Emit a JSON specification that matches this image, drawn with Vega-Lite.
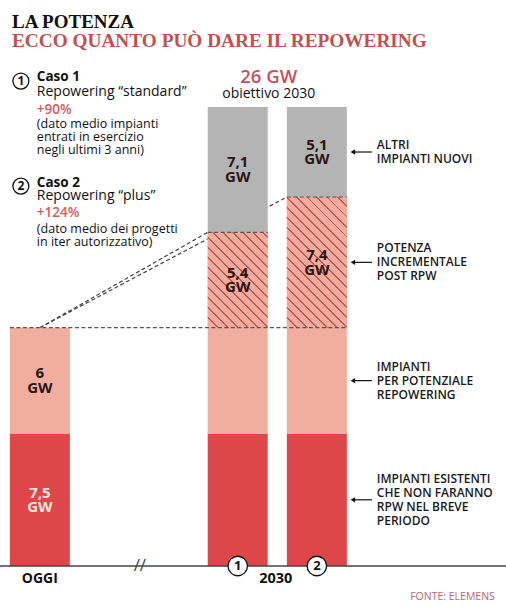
{
  "$schema": "https://vega.github.io/schema/vega-lite/v6.json",
  "width": 497,
  "height": 543,
  "autosize": {"type": "none"},
  "padding": {"left": 9, "top": 62, "right": 0, "bottom": 0},
  "background": "white",
  "config": {"view": {"stroke": null}, "font": "Open Sans", "axis": {"domain": false, "ticks": false, "labels": false, "grid": false, "title": null}},
  "title": {
    "text": "LA POTENZA",
    "subtitle": "ECCO QUANTO PUÒ DARE IL REPOWERING",
    "anchor": "start",
    "frame": "group",
    "dx": 3,
    "offset": 11,
    "font": "Liberation Serif",
    "fontSize": 19,
    "fontWeight": "bold",
    "color": "#111111",
    "subtitleFont": "Liberation Serif",
    "subtitleFontSize": 19.3,
    "subtitleFontWeight": "bold",
    "subtitleColor": "#c0514f",
    "subtitlePadding": 0
  },
  "datasets": {
    "bars": [
      {"bar": "OGGI", "seg": "esistenti", "level": 1, "value": 7.5, "label": "7,5\nGW"},
      {"bar": "OGGI", "seg": "potenziale", "level": 2, "value": 6, "label": "6\nGW"},
      {"bar": "Caso 1", "seg": "esistenti", "level": 1, "value": 7.5, "label": ""},
      {"bar": "Caso 1", "seg": "potenziale", "level": 2, "value": 6, "label": ""},
      {"bar": "Caso 1", "seg": "incrementale", "level": 3, "value": 5.4, "label": "5,4\nGW"},
      {"bar": "Caso 1", "seg": "altri", "level": 4, "value": 7.1, "label": "7,1\nGW"},
      {"bar": "Caso 2", "seg": "esistenti", "level": 1, "value": 7.5, "label": "", "note": "IMPIANTI ESISTENTI\nCHE NON FARANNO\nRPW NEL BREVE\nPERIODO"},
      {"bar": "Caso 2", "seg": "potenziale", "level": 2, "value": 6, "label": "", "note": "IMPIANTI\nPER POTENZIALE\nREPOWERING"},
      {"bar": "Caso 2", "seg": "incrementale", "level": 3, "value": 7.4, "label": "7,4\nGW", "note": "POTENZA\nINCREMENTALE\nPOST RPW"},
      {"bar": "Caso 2", "seg": "altri", "level": 4, "value": 5.1, "label": "5,1\nGW", "note": "ALTRI\nIMPIANTI NUOVI"}
    ],
    "links": [
      {"from": "OGGI", "to": "Caso 1", "base": 13.5, "top": 18.9},
      {"from": "OGGI", "to": "Caso 2", "base": 13.5, "top": 20.9}
    ],
    "legend": [
      {"kind": "head", "text": "Caso 1", "at": 27.7},
      {"kind": "sub", "text": "Repowering “standard”", "at": 26.83},
      {"kind": "pct", "text": "+90%", "at": 25.83},
      {"kind": "paren", "text": "(dato medio impianti\nentrati in esercizio\nnegli ultimi 3 anni)", "at": 25.04},
      {"kind": "head", "text": "Caso 2", "at": 21.69},
      {"kind": "sub", "text": "Repowering “plus”", "at": 20.96},
      {"kind": "pct", "text": "+124%", "at": 19.98},
      {"kind": "paren", "text": "(dato medio dei progetti\nin iter autorizzativo)", "at": 19.07}
    ],
    "cases": [
      {"bar": "Caso 1", "num": "1", "at": 27.47},
      {"bar": "Caso 2", "num": "2", "at": 21.52}
    ]
  },
  "layer": [
    {
      "data": {"name": "links"},
      "mark": {"type": "rule", "strokeDash": [4, 2.5], "color": "#444444", "strokeWidth": 1.2, "x2Offset": -30},
      "encoding": {
        "x": {"field": "from", "type": "nominal", "axis": null,
              "scale": {"domain": ["OGGI", "s1", "s2", "s3", "s4", "Caso 1", "s6", "Caso 2", "s8", "s9", "s10", "s11"], "paddingInner": 0, "paddingOuter": 0.28}},
        "x2": {"field": "to"},
        "y": {"field": "base", "type": "quantitative", "axis": null, "scale": {"domain": [-2.209, 28.549], "nice": false, "zero": false}},
        "y2": {"field": "top"}
      }
    },
    {
      "data": {"name": "bars"},
      "transform": [
        {"stack": "value", "groupby": ["bar"], "sort": [{"field": "level", "order": "ascending"}], "as": ["v0", "v1"]}
      ],
      "mark": {"type": "bar", "width": 60},
      "encoding": {
        "x": {"field": "bar", "type": "nominal", "axis": null},
        "y": {"field": "v0", "type": "quantitative", "axis": null},
        "y2": {"field": "v1"},
        "color": {"field": "seg", "type": "nominal", "legend": null,
                  "scale": {"domain": ["esistenti", "potenziale", "incrementale", "altri"], "range": ["#dd4749", "#f0ae9f", "#f4ac9f", "#b4b4b4"]}}
      }
    },
    {
      "data": {"name": "bars"},
      "transform": [
        {"stack": "value", "groupby": ["bar"], "sort": [{"field": "level", "order": "ascending"}], "as": ["v0", "v1"]},
        {"filter": "datum.seg === 'incrementale' && datum.bar === 'Caso 1'"}
      ],
      "mark": {"type": "bar", "width": 60, "fill": {
        "gradient": "linear", "x1": 0, "y1": 1, "x2": 0.735, "y2": -0.167,
        "stops": [
          {"offset": 0, "color": "#f4ac9f"},
          {"offset": 0.059, "color": "#f4ac9f"}, {"offset": 0.059, "color": "#c9564f"}, {"offset": 0.071, "color": "#c9564f"}, {"offset": 0.071, "color": "#f4ac9f"},
          {"offset": 0.123, "color": "#f4ac9f"}, {"offset": 0.123, "color": "#c9564f"}, {"offset": 0.135, "color": "#c9564f"}, {"offset": 0.135, "color": "#f4ac9f"},
          {"offset": 0.188, "color": "#f4ac9f"}, {"offset": 0.188, "color": "#c9564f"}, {"offset": 0.2, "color": "#c9564f"}, {"offset": 0.2, "color": "#f4ac9f"},
          {"offset": 0.253, "color": "#f4ac9f"}, {"offset": 0.253, "color": "#c9564f"}, {"offset": 0.265, "color": "#c9564f"}, {"offset": 0.265, "color": "#f4ac9f"},
          {"offset": 0.318, "color": "#f4ac9f"}, {"offset": 0.318, "color": "#c9564f"}, {"offset": 0.33, "color": "#c9564f"}, {"offset": 0.33, "color": "#f4ac9f"},
          {"offset": 0.382, "color": "#f4ac9f"}, {"offset": 0.382, "color": "#c9564f"}, {"offset": 0.394, "color": "#c9564f"}, {"offset": 0.394, "color": "#f4ac9f"},
          {"offset": 0.447, "color": "#f4ac9f"}, {"offset": 0.447, "color": "#c9564f"}, {"offset": 0.459, "color": "#c9564f"}, {"offset": 0.459, "color": "#f4ac9f"},
          {"offset": 0.512, "color": "#f4ac9f"}, {"offset": 0.512, "color": "#c9564f"}, {"offset": 0.524, "color": "#c9564f"}, {"offset": 0.524, "color": "#f4ac9f"},
          {"offset": 0.576, "color": "#f4ac9f"}, {"offset": 0.576, "color": "#c9564f"}, {"offset": 0.588, "color": "#c9564f"}, {"offset": 0.588, "color": "#f4ac9f"},
          {"offset": 0.641, "color": "#f4ac9f"}, {"offset": 0.641, "color": "#c9564f"}, {"offset": 0.653, "color": "#c9564f"}, {"offset": 0.653, "color": "#f4ac9f"},
          {"offset": 0.706, "color": "#f4ac9f"}, {"offset": 0.706, "color": "#c9564f"}, {"offset": 0.718, "color": "#c9564f"}, {"offset": 0.718, "color": "#f4ac9f"},
          {"offset": 0.77, "color": "#f4ac9f"}, {"offset": 0.77, "color": "#c9564f"}, {"offset": 0.782, "color": "#c9564f"}, {"offset": 0.782, "color": "#f4ac9f"},
          {"offset": 0.835, "color": "#f4ac9f"}, {"offset": 0.835, "color": "#c9564f"}, {"offset": 0.847, "color": "#c9564f"}, {"offset": 0.847, "color": "#f4ac9f"},
          {"offset": 0.9, "color": "#f4ac9f"}, {"offset": 0.9, "color": "#c9564f"}, {"offset": 0.912, "color": "#c9564f"}, {"offset": 0.912, "color": "#f4ac9f"},
          {"offset": 0.965, "color": "#f4ac9f"}, {"offset": 0.965, "color": "#c9564f"}, {"offset": 0.977, "color": "#c9564f"}, {"offset": 0.977, "color": "#f4ac9f"},
          {"offset": 1, "color": "#f4ac9f"}
        ]}},
      "encoding": {
        "x": {"field": "bar", "type": "nominal"},
        "y": {"field": "v0", "type": "quantitative"},
        "y2": {"field": "v1"}
      }
    },
    {
      "data": {"name": "bars"},
      "transform": [
        {"stack": "value", "groupby": ["bar"], "sort": [{"field": "level", "order": "ascending"}], "as": ["v0", "v1"]},
        {"filter": "datum.seg === 'incrementale' && datum.bar === 'Caso 2'"}
      ],
      "mark": {"type": "bar", "width": 60, "fill": {
        "gradient": "linear", "x1": 0, "y1": 1, "x2": 0.554, "y2": -0.205,
        "stops": [
          {"offset": 0, "color": "#f4ac9f"},
          {"offset": 0.048, "color": "#f4ac9f"}, {"offset": 0.048, "color": "#c9564f"}, {"offset": 0.058, "color": "#c9564f"}, {"offset": 0.058, "color": "#f4ac9f"},
          {"offset": 0.1, "color": "#f4ac9f"}, {"offset": 0.1, "color": "#c9564f"}, {"offset": 0.11, "color": "#c9564f"}, {"offset": 0.11, "color": "#f4ac9f"},
          {"offset": 0.153, "color": "#f4ac9f"}, {"offset": 0.153, "color": "#c9564f"}, {"offset": 0.163, "color": "#c9564f"}, {"offset": 0.163, "color": "#f4ac9f"},
          {"offset": 0.206, "color": "#f4ac9f"}, {"offset": 0.206, "color": "#c9564f"}, {"offset": 0.216, "color": "#c9564f"}, {"offset": 0.216, "color": "#f4ac9f"},
          {"offset": 0.259, "color": "#f4ac9f"}, {"offset": 0.259, "color": "#c9564f"}, {"offset": 0.269, "color": "#c9564f"}, {"offset": 0.269, "color": "#f4ac9f"},
          {"offset": 0.311, "color": "#f4ac9f"}, {"offset": 0.311, "color": "#c9564f"}, {"offset": 0.321, "color": "#c9564f"}, {"offset": 0.321, "color": "#f4ac9f"},
          {"offset": 0.364, "color": "#f4ac9f"}, {"offset": 0.364, "color": "#c9564f"}, {"offset": 0.374, "color": "#c9564f"}, {"offset": 0.374, "color": "#f4ac9f"},
          {"offset": 0.417, "color": "#f4ac9f"}, {"offset": 0.417, "color": "#c9564f"}, {"offset": 0.427, "color": "#c9564f"}, {"offset": 0.427, "color": "#f4ac9f"},
          {"offset": 0.469, "color": "#f4ac9f"}, {"offset": 0.469, "color": "#c9564f"}, {"offset": 0.479, "color": "#c9564f"}, {"offset": 0.479, "color": "#f4ac9f"},
          {"offset": 0.522, "color": "#f4ac9f"}, {"offset": 0.522, "color": "#c9564f"}, {"offset": 0.532, "color": "#c9564f"}, {"offset": 0.532, "color": "#f4ac9f"},
          {"offset": 0.575, "color": "#f4ac9f"}, {"offset": 0.575, "color": "#c9564f"}, {"offset": 0.585, "color": "#c9564f"}, {"offset": 0.585, "color": "#f4ac9f"},
          {"offset": 0.627, "color": "#f4ac9f"}, {"offset": 0.627, "color": "#c9564f"}, {"offset": 0.637, "color": "#c9564f"}, {"offset": 0.637, "color": "#f4ac9f"},
          {"offset": 0.68, "color": "#f4ac9f"}, {"offset": 0.68, "color": "#c9564f"}, {"offset": 0.69, "color": "#c9564f"}, {"offset": 0.69, "color": "#f4ac9f"},
          {"offset": 0.733, "color": "#f4ac9f"}, {"offset": 0.733, "color": "#c9564f"}, {"offset": 0.743, "color": "#c9564f"}, {"offset": 0.743, "color": "#f4ac9f"},
          {"offset": 0.786, "color": "#f4ac9f"}, {"offset": 0.786, "color": "#c9564f"}, {"offset": 0.796, "color": "#c9564f"}, {"offset": 0.796, "color": "#f4ac9f"},
          {"offset": 0.838, "color": "#f4ac9f"}, {"offset": 0.838, "color": "#c9564f"}, {"offset": 0.848, "color": "#c9564f"}, {"offset": 0.848, "color": "#f4ac9f"},
          {"offset": 0.891, "color": "#f4ac9f"}, {"offset": 0.891, "color": "#c9564f"}, {"offset": 0.901, "color": "#c9564f"}, {"offset": 0.901, "color": "#f4ac9f"},
          {"offset": 0.944, "color": "#f4ac9f"}, {"offset": 0.944, "color": "#c9564f"}, {"offset": 0.954, "color": "#c9564f"}, {"offset": 0.954, "color": "#f4ac9f"},
          {"offset": 1, "color": "#f4ac9f"}
        ]}},
      "encoding": {
        "x": {"field": "bar", "type": "nominal"},
        "y": {"field": "v0", "type": "quantitative"},
        "y2": {"field": "v1"}
      }
    },
    {
      "data": {"name": "links"},
      "mark": {"type": "rule", "strokeDash": [4, 2.5], "color": "#555555", "strokeWidth": 1.1, "xOffset": -30, "x2Offset": 30},
      "encoding": {
        "x": {"field": "to", "type": "nominal"},
        "x2": {"field": "to"},
        "y": {"field": "top", "type": "quantitative"}
      }
    },
    {
      "data": {"name": "links"},
      "transform": [{"filter": "datum.to === 'Caso 2'"}],
      "layer": [
        {
          "mark": {"type": "rule", "strokeDash": [4, 2.5], "color": "#555555", "strokeWidth": 1.1, "xOffset": -30, "x2Offset": 30},
          "encoding": {
            "x": {"field": "from", "type": "nominal"},
            "x2": {"field": "to"},
            "y": {"field": "base", "type": "quantitative"}
          }
        },
        {
          "mark": {"type": "rule", "color": "#444444", "strokeWidth": 1.3, "xOffset": -41, "x2Offset": 190},
          "encoding": {
            "x": {"field": "from", "type": "nominal"},
            "x2": {"field": "to"},
            "y": {"datum": 0, "type": "quantitative"}
          }
        }
      ]
    },
    {
      "data": {"name": "bars"},
      "transform": [
        {"stack": "value", "groupby": ["bar"], "sort": [{"field": "level", "order": "ascending"}], "as": ["v0", "v1"]},
        {"filter": "datum.label !== ''"},
        {"fold": ["v0", "v1"], "as": ["edge", "pos"]},
        {"aggregate": [{"op": "mean", "field": "pos", "as": "mid"}], "groupby": ["bar", "seg", "label"]}
      ],
      "mark": {"type": "text", "lineBreak": "\n", "fontSize": 15, "fontWeight": "bold", "lineHeight": 14.5, "baseline": "middle", "align": "center", "dy": -7.25},
      "encoding": {
        "x": {"field": "bar", "type": "nominal"},
        "y": {"field": "mid", "type": "quantitative"},
        "text": {"field": "label"},
        "color": {"condition": {"test": "datum.seg === 'esistenti'", "value": "#fde4df"}, "value": "#2b1515"}
      }
    },
    {
      "data": {"name": "bars"},
      "transform": [
        {"stack": "value", "groupby": ["bar"], "sort": [{"field": "level", "order": "ascending"}], "as": ["v0", "v1"]},
        {"filter": "datum.bar === 'Caso 2'"},
        {"fold": ["v0", "v1"], "as": ["edge", "pos"]},
        {"aggregate": [{"op": "mean", "field": "pos", "as": "mid"}], "groupby": ["bar", "seg", "note"]}
      ],
      "layer": [
        {
          "mark": {"type": "rule", "color": "#111111", "strokeWidth": 1.2, "xOffset": 36, "x2Offset": 55},
          "encoding": {
            "x": {"field": "bar", "type": "nominal"},
            "x2": {"field": "bar"},
            "y": {"field": "mid", "type": "quantitative"}
          }
        },
        {
          "mark": {"type": "point", "shape": "triangle-left", "filled": true, "size": 28, "color": "#111111", "opacity": 1, "xOffset": 36},
          "encoding": {
            "x": {"field": "bar", "type": "nominal"},
            "y": {"field": "mid", "type": "quantitative"}
          }
        },
        {
          "transform": [{"filter": "datum.seg === 'altri'"}],
          "mark": {"type": "text", "lineBreak": "\n", "fontSize": 12, "fontWeight": 600, "lineHeight": 14, "align": "left", "baseline": "middle", "color": "#1a1a1a", "xOffset": 60, "dy": -7},
          "encoding": {
            "x": {"field": "bar", "type": "nominal"},
            "y": {"field": "mid", "type": "quantitative"},
            "text": {"field": "note"}
          }
        },
        {
          "transform": [{"filter": "datum.seg === 'incrementale' || datum.seg === 'potenziale'"}],
          "mark": {"type": "text", "lineBreak": "\n", "fontSize": 12, "fontWeight": 600, "lineHeight": 14, "align": "left", "baseline": "middle", "color": "#1a1a1a", "xOffset": 60, "dy": -14},
          "encoding": {
            "x": {"field": "bar", "type": "nominal"},
            "y": {"field": "mid", "type": "quantitative"},
            "text": {"field": "note"}
          }
        },
        {
          "transform": [{"filter": "datum.seg === 'esistenti'"}],
          "mark": {"type": "text", "lineBreak": "\n", "fontSize": 12, "fontWeight": 600, "lineHeight": 14, "align": "left", "baseline": "middle", "color": "#1a1a1a", "xOffset": 60, "dy": -21},
          "encoding": {
            "x": {"field": "bar", "type": "nominal"},
            "y": {"field": "mid", "type": "quantitative"},
            "text": {"field": "note"}
          }
        }
      ]
    },
    {
      "data": {"name": "cases"},
      "layer": [
        {
          "mark": {"type": "point", "shape": "circle", "size": 256, "filled": true, "fill": "white", "stroke": "#111111", "strokeWidth": 1.3, "opacity": 1, "xOffset": -19},
          "encoding": {
            "x": {"datum": "OGGI", "type": "nominal"},
            "y": {"field": "at", "type": "quantitative"}
          }
        },
        {
          "mark": {"type": "text", "fontSize": 12, "fontWeight": "bold", "color": "#111111", "baseline": "middle", "align": "center", "xOffset": -19},
          "encoding": {
            "x": {"datum": "OGGI", "type": "nominal"},
            "y": {"field": "at", "type": "quantitative"},
            "text": {"field": "num"}
          }
        },
        {
          "mark": {"type": "point", "shape": "circle", "size": 380, "filled": true, "fill": "white", "stroke": "#111111", "strokeWidth": 1.3, "opacity": 1},
          "encoding": {
            "x": {"field": "bar", "type": "nominal"},
            "y": {"datum": 0, "type": "quantitative"}
          }
        },
        {
          "mark": {"type": "text", "fontSize": 13, "fontWeight": "bold", "color": "#111111", "baseline": "middle", "align": "center"},
          "encoding": {
            "x": {"field": "bar", "type": "nominal"},
            "y": {"datum": 0, "type": "quantitative"},
            "text": {"field": "num"}
          }
        }
      ]
    },
    {
      "data": {"name": "legend"},
      "layer": [
        {
          "transform": [{"filter": "datum.kind === 'head'"}],
          "mark": {"type": "text", "fontSize": 13.5, "fontWeight": "bold", "color": "#111111", "align": "left", "baseline": "middle", "xOffset": -3},
          "encoding": {"x": {"datum": "OGGI", "type": "nominal"}, "y": {"field": "at", "type": "quantitative"}, "text": {"field": "text"}}
        },
        {
          "transform": [{"filter": "datum.kind === 'sub'"}],
          "mark": {"type": "text", "fontSize": 14, "color": "#111111", "align": "left", "baseline": "middle", "xOffset": -3},
          "encoding": {"x": {"datum": "OGGI", "type": "nominal"}, "y": {"field": "at", "type": "quantitative"}, "text": {"field": "text"}}
        },
        {
          "transform": [{"filter": "datum.kind === 'pct'"}],
          "mark": {"type": "text", "fontSize": 13.5, "fontWeight": 600, "color": "#d65a5e", "align": "left", "baseline": "middle", "xOffset": -3},
          "encoding": {"x": {"datum": "OGGI", "type": "nominal"}, "y": {"field": "at", "type": "quantitative"}, "text": {"field": "text"}}
        },
        {
          "transform": [{"filter": "datum.kind === 'paren'"}],
          "mark": {"type": "text", "fontSize": 12.5, "lineBreak": "\n", "lineHeight": 13, "color": "#111111", "align": "left", "baseline": "middle", "xOffset": -3},
          "encoding": {"x": {"datum": "OGGI", "type": "nominal"}, "y": {"field": "at", "type": "quantitative"}, "text": {"field": "text"}}
        }
      ]
    },
    {
      "data": {"values": [{"big": "26 GW", "small": "obiettivo 2030", "fonte": "FONTE: ELEMENS"}]},
      "layer": [
        {
          "mark": {"type": "text", "fontSize": 18.5, "fontWeight": 600, "color": "#c4505a", "align": "center", "baseline": "middle", "xOffset": 31},
          "encoding": {"x": {"datum": "Caso 1", "type": "nominal"}, "y": {"datum": 27.68, "type": "quantitative"}, "text": {"field": "big"}}
        },
        {
          "mark": {"type": "text", "fontSize": 14, "color": "#111111", "align": "center", "baseline": "middle", "xOffset": 31},
          "encoding": {"x": {"datum": "Caso 1", "type": "nominal"}, "y": {"datum": 26.72, "type": "quantitative"}, "text": {"field": "small"}}
        },
        {
          "mark": {"type": "text", "fontSize": 14, "fontWeight": "bold", "color": "#111111", "align": "center", "baseline": "middle"},
          "encoding": {"x": {"datum": "OGGI", "type": "nominal"}, "y": {"datum": -0.74, "type": "quantitative"}, "text": {"value": "OGGI"}}
        },
        {
          "mark": {"type": "text", "fontSize": 14.5, "fontWeight": "bold", "color": "#111111", "align": "center", "baseline": "middle", "xOffset": 38},
          "encoding": {"x": {"datum": "Caso 1", "type": "nominal"}, "y": {"datum": -0.74, "type": "quantitative"}, "text": {"value": "2030"}}
        },
        {
          "mark": {"type": "text", "fontSize": 17, "color": "#444444", "align": "center", "baseline": "middle", "xOffset": 100},
          "encoding": {"x": {"datum": "OGGI", "type": "nominal"}, "y": {"datum": 0, "type": "quantitative"}, "text": {"value": "//"}}
        },
        {
          "mark": {"type": "text", "fontSize": 10.5, "color": "#bb6670", "align": "right", "baseline": "middle", "xOffset": 178},
          "encoding": {"x": {"datum": "Caso 2", "type": "nominal"}, "y": {"datum": -1.76, "type": "quantitative"}, "text": {"field": "fonte"}}
        }
      ]
    }
  ]
}
